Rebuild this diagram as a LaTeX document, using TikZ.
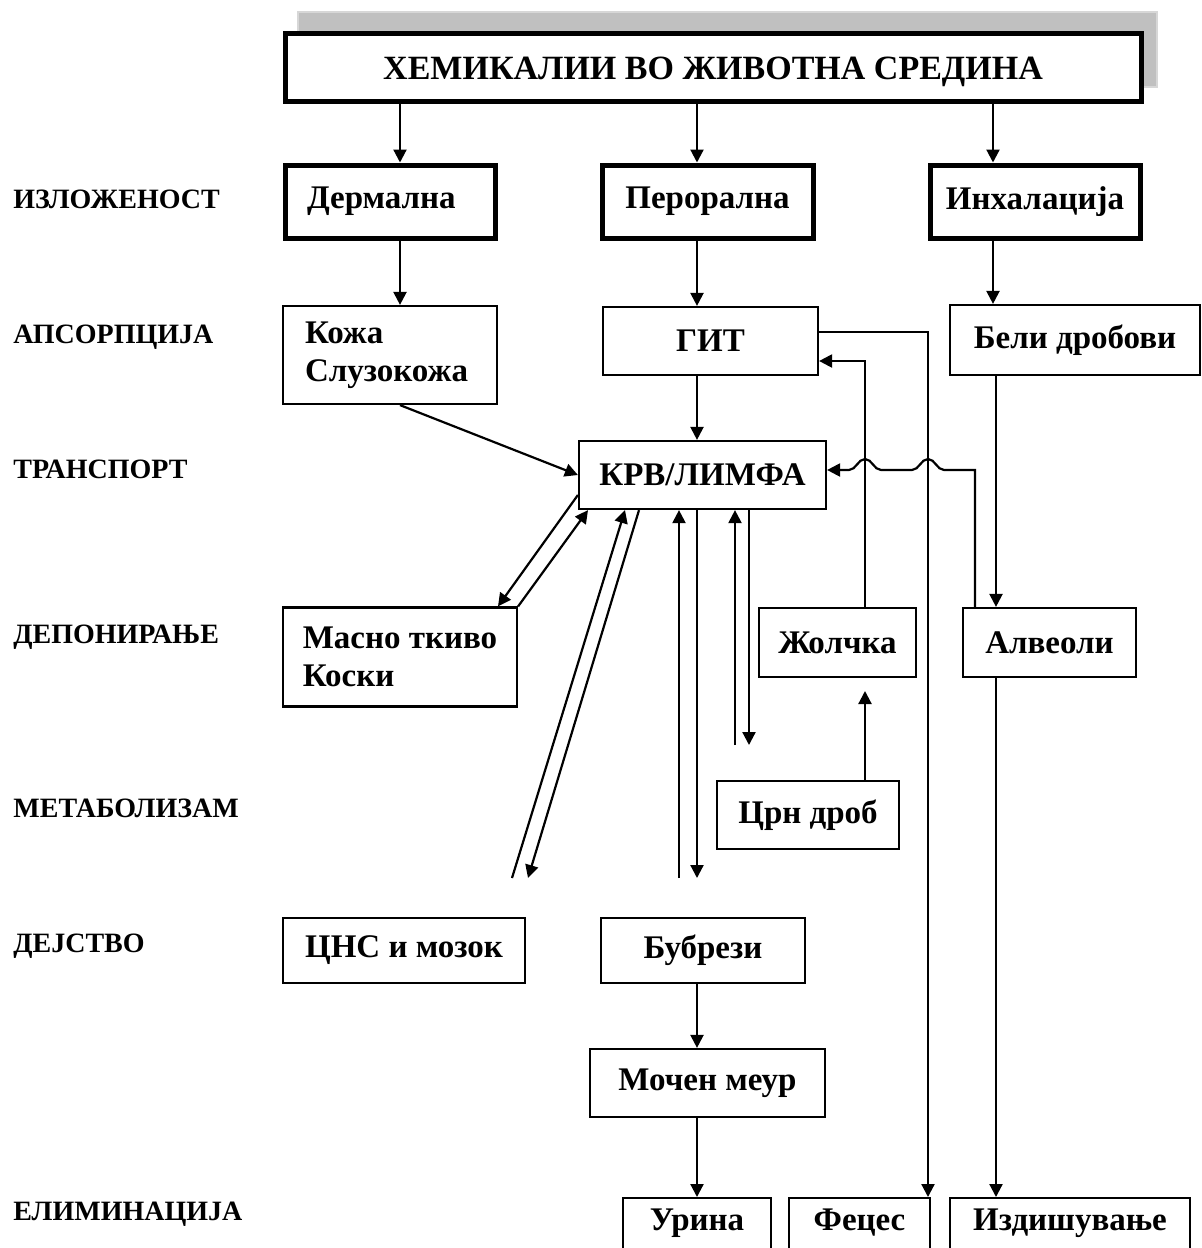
\documentclass[tikz,border=0pt]{standalone}
\usepackage{fontspec}
\setmainfont{Liberation Serif}
\usetikzlibrary{arrows.meta}
\definecolor{shadowgray}{RGB}{192,192,192}
\definecolor{shadowedge}{RGB}{215,215,215}
\begin{document}
\begin{tikzpicture}[x=0.5pt,y=-0.5pt,
  box/.style={draw, line width=1.1pt, inner sep=0pt, fill=white, align=center,
    font=\bfseries\fontsize{16.5}{19}\selectfont},
  thickbox/.style={box, line width=2.5pt},
  lbox/.style={align=left, inner xsep=11pt, text width=#1},
  lab/.style={anchor=base west, inner sep=0pt, font=\bfseries\fontsize{14}{16}\selectfont},
  arr/.style={line width=1.1pt, -{Triangle[width=6.5pt,length=6.5pt]}},
  bot/.style={box, anchor=north, text height=12pt, text depth=22pt, inner ysep=4pt}
]
\useasboundingbox (0,0) rectangle (1202,1248);

% shadow of title
\draw[draw=shadowedge, fill=shadowgray, line width=0.6pt] (298,12) rectangle (1157,87);

% title
\node[thickbox, minimum width=428pt, minimum height=34pt, text height=12pt, text depth=0pt,
  font=\bfseries\fontsize{17}{20}\selectfont] (top) at (713,67) {ХЕМИКАЛИИ ВО ЖИВОТНА СРЕДИНА};

% stage labels
\node[lab] (l1) at (13,208) {ИЗЛОЖЕНОСТ};
\node[lab] (l2) at (13,343) {АПСОРПЦИЈА};
\node[lab] (l3) at (13,478) {ТРАНСПОРТ};
\node[lab] (l4) at (13,643) {ДЕПОНИРАЊЕ};
\node[lab] (l5) at (13,817) {МЕТАБОЛИЗАМ};
\node[lab] (l6) at (13,952) {ДЕЈСТВО};
\node[lab] (l7) at (13,1220) {ЕЛИМИНАЦИЈА};

% exposure
\node[thickbox, lbox=83pt, minimum width=105pt, minimum height=36.5pt] (derm) at (390,201.5) {\mbox{Дермална}};
\node[thickbox, minimum width=105.5pt, minimum height=36.5pt] (pero) at (707.5,201.5) {Перорална};
\node[thickbox, minimum width=105pt, minimum height=36.5pt] (inh) at (1035,201.5) {Инхалација};

% absorption
\node[box, lbox=85pt, minimum width=107pt, minimum height=49pt] (koza) at (390,355) {Кожа\\\mbox{Слузокожа}};
\node[box, minimum width=107.5pt, minimum height=34pt] (git) at (710.5,341) {ГИТ};
\node[box, minimum width=125pt, minimum height=35pt] (beli) at (1075,340) {Бели дробови};

% transport
\node[box, minimum width=123.5pt, minimum height=34pt] (krv) at (702.5,475) {КРВ/ЛИМФА};

% deposition
\node[box, align=left, minimum width=117pt, minimum height=49.5pt] (masno) at (400,657) {Масно ткиво\\Коски};
\node[box, minimum width=78.5pt, minimum height=34.5pt] (zol) at (837.5,642.5) {Жолчка};
\node[box, minimum width=86.5pt, minimum height=34.5pt] (alv) at (1049.5,642.5) {Алвеоли};

% metabolism
\node[box, minimum width=91pt, minimum height=34pt] (crn) at (808,815) {Црн дроб};

% effect
\node[box, minimum width=121pt, minimum height=32.5pt] (cns) at (404,950.5) {ЦНС и мозок};
\node[box, minimum width=102pt, minimum height=32.5pt] (bub) at (703,950.5) {Бубрези};
\node[box, minimum width=117.5pt, minimum height=34pt] (moc) at (707.5,1083) {Мочен меур};

% elimination
\node[bot, minimum width=74pt] (urina) at (697,1197) {Урина};
\node[bot, minimum width=70.5pt] (fec) at (859.5,1197) {Фецес};
\node[bot, minimum width=120pt] (izd) at (1070,1197) {Издишување};

% free ends
\coordinate (cA) at (512,878);
\coordinate (cB) at (528,878);
\coordinate (cE) at (679,878);
\coordinate (cF) at (697,878);
\coordinate (cG) at (735,745);
\coordinate (cH) at (749,745);
\coordinate (cZ) at (865,691);

% connectors
\draw[arr] (400,0 |- top.south) -- (400,0 |- derm.north);
\draw[arr] (697,0 |- top.south) -- (697,0 |- pero.north);
\draw[arr] (993,0 |- top.south) -- (993,0 |- inh.north);

\draw[arr] (400,0 |- derm.south) -- (400,0 |- koza.north);
\draw[arr] (697,0 |- pero.south) -- (697,0 |- git.north);
\draw[arr] (993,0 |- inh.south) -- (993,0 |- beli.north);

\draw[arr] (697,0 |- git.south) -- (697,0 |- krv.north);
\draw[arr] (400,0 |- koza.south) -- (krv.west);

% GIT -> feces
\draw[arr] (git.east |- 0,332) -- (928,332) -- (928,0 |- fec.north);
% bile -> GIT
\draw[arr] (865,0 |- zol.north) -- (865,361) -- (git.east |- 0,361);
% lungs -> alveoli -> exhalation
\draw[arr] (996,0 |- beli.south) -- (996,0 |- alv.north);
\draw[arr] (996,0 |- alv.south) -- (996,0 |- izd.north);
% alveoli -> blood with line hops
\draw[arr] (975,0 |- alv.north) -- (975,470) -- (944,470)
  .. controls (937,470) and (935,459) .. (928,459)
  .. controls (921,459) and (919,470) .. (912,470)
  -- (881,470)
  .. controls (874,470) and (872,459) .. (865,459)
  .. controls (858,459) and (856,470) .. (849,470)
  -- (krv.east |- 0,470);
% liver -> bile
\draw[arr] (865,0 |- crn.north) -- (cZ);

% blood <-> fat/bones
\draw[arr] (krv.west |- 0,495) -- (498,0 |- masno.north);
\draw[arr] (masno.north east) -- (588,0 |- krv.south);
% blood <-> CNS
\draw[arr] (cA) -- (625,0 |- krv.south);
\draw[arr] (639,0 |- krv.south) -- (cB);
% blood <-> kidneys
\draw[arr] (cE) -- (679,0 |- krv.south);
\draw[arr] (697,0 |- krv.south) -- (cF);
% blood <-> liver
\draw[arr] (cG) -- (735,0 |- krv.south);
\draw[arr] (749,0 |- krv.south) -- (cH);

% excretion
\draw[arr] (697,0 |- bub.south) -- (697,0 |- moc.north);
\draw[arr] (697,0 |- moc.south) -- (697,0 |- urina.north);
\end{tikzpicture}
\end{document}
